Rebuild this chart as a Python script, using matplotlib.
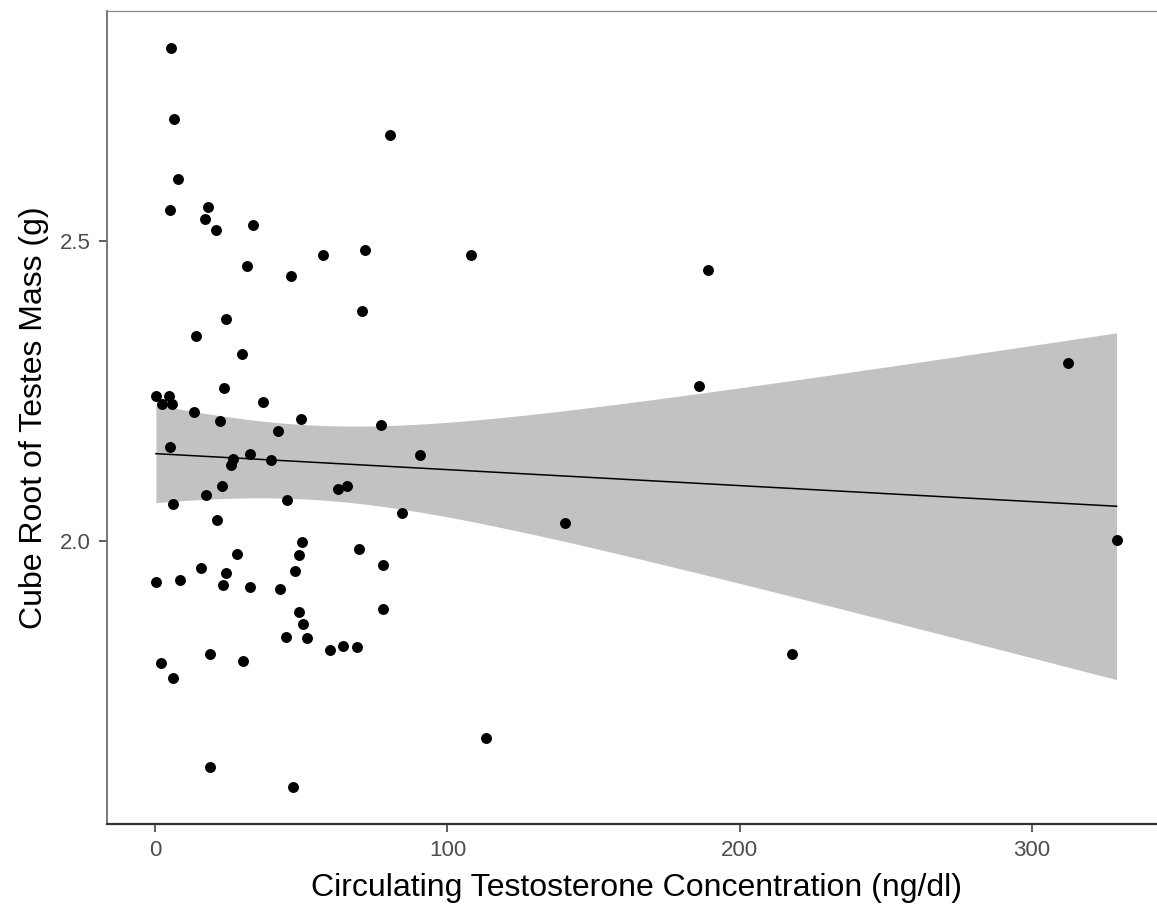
import numpy as np
import matplotlib
matplotlib.use("Agg")
import matplotlib.pyplot as plt

# circulating testosterone (ng/dl) and cube root of testes mass (g)
testosterone = [5.3, 6.4, 7.6, 5.0, 18.0, 16.9, 20.7, 33.3, 80.2, 71.8,
                57.4, 31.5, 46.4, 70.8, 24.3, 13.9, 29.7, 23.6, 0.2, 4.7,
                2.2, 5.8, 36.7, 13.3, 22.2, 49.8, 42.0, 77.2, 5.0, 32.3,
                26.6, 25.9, 39.7, 90.6, 22.9, 17.3, 62.4, 65.7, 6.0, 45.0,
                84.3, 21.2, 50.2, 28.1, 49.1, 69.7, 77.9, 15.8, 24.3, 47.9,
                0.4, 8.6, 23.3, 32.3, 42.7, 77.9, 49.1, 50.5, 44.6, 51.8,
                59.9, 64.1, 68.9, 18.7, 30.0, 1.9, 6.0, 18.7, 47.1, 108.0,
                189.1, 186.1, 140.1, 217.9, 113.2, 312.3, 329.0]
testes_mass = [2.822, 2.703, 2.603, 2.551, 2.556, 2.536, 2.519, 2.526, 2.676, 2.485,
               2.476, 2.459, 2.441, 2.383, 2.370, 2.341, 2.312, 2.255, 2.242, 2.242,
               2.228, 2.228, 2.232, 2.215, 2.200, 2.204, 2.184, 2.193, 2.157, 2.145,
               2.137, 2.127, 2.135, 2.144, 2.092, 2.077, 2.087, 2.091, 2.062, 2.068,
               2.047, 2.034, 1.998, 1.978, 1.976, 1.986, 1.960, 1.954, 1.947, 1.949,
               1.931, 1.934, 1.927, 1.923, 1.919, 1.887, 1.882, 1.861, 1.840, 1.838,
               1.818, 1.825, 1.823, 1.812, 1.799, 1.796, 1.772, 1.623, 1.590, 2.477,
               2.452, 2.259, 2.029, 1.811, 1.671, 2.297, 2.002]
y_ticks = [2.0, 2.5]
x_ticks = [0, 100, 200, 300]

x = np.array(testosterone)
y = np.array(testes_mass)

# linear fit with 95% confidence band (like geom_smooth(method="lm"))
n = len(x)
slope, intercept = np.polyfit(x, y, 1)
resid = y - (slope * x + intercept)
s = np.sqrt(np.sum(resid ** 2) / (n - 2))
t_crit = 1.992  # t(0.975, df=75)
xs = np.linspace(x.min(), x.max(), 200)
fit = slope * xs + intercept
se = s * np.sqrt(1 / n + (xs - x.mean()) ** 2 / np.sum((x - x.mean()) ** 2))

plt.rcParams['font.family'] = ['Liberation Sans', 'DejaVu Sans']
fig = plt.figure(figsize=(11.57, 9.05), dpi=100)
ax = fig.add_axes([0.0927, 0.0898, 0.914, 0.8984])

ax.fill_between(xs, fit - t_crit * se, fit + t_crit * se, color='#c2c2c2', lw=0, zorder=1)
ax.plot(xs, fit, color='black', lw=1.1, zorder=2)
ax.scatter(x, y, s=62, color='black', lw=0, zorder=3)

ax.set_xlim(-16.45, 345.5)
ax.set_ylim(1.5284, 2.884)
ax.set_xticks(x_ticks)
ax.set_xticklabels([str(t) for t in x_ticks])
ax.set_yticks(y_ticks)
ax.set_yticklabels(['2.0', '2.5'])
ax.tick_params(labelsize=16, colors='#333333', length=6, width=1.1, pad=6)
ax.tick_params(axis='both', labelcolor='#4d4d4d')

ax.spines['right'].set_visible(False)
ax.spines['top'].set_color('#8c8c8c')
ax.spines['top'].set_linewidth(0.9)
ax.spines['left'].set_color('#6e6e6e')
ax.spines['left'].set_linewidth(1.3)
ax.spines['bottom'].set_color('#333333')
ax.spines['bottom'].set_linewidth(1.6)

ax.set_xlabel("Circulating Testosterone Concentration (ng/dl)", fontsize=23, labelpad=8)
ax.set_ylabel("Cube Root of Testes Mass (g)", fontsize=23, labelpad=8)

fig.savefig('out.png', dpi=100)
